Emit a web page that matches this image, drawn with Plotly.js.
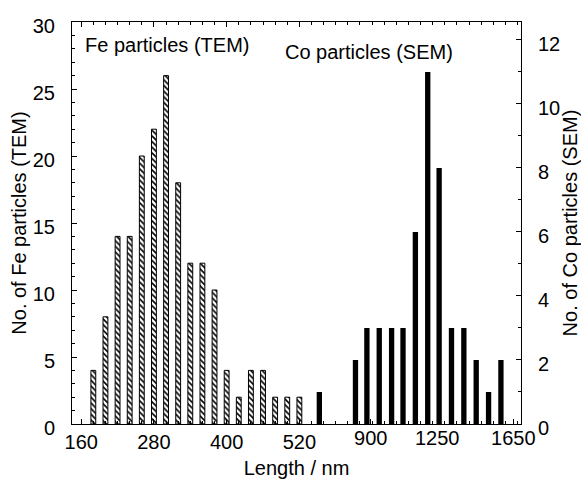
<!DOCTYPE html>
<html>
<head>
<meta charset="utf-8">
<script src="https://cdn.plot.ly/plotly-3.0.1.min.js"></script>
<style>html,body{margin:0;padding:0;background:#fff;}#chart{width:581px;height:482px;}</style>
</head>
<body>
<div id="chart"></div>
<script>
// Fe particles (TEM): bin centre length (nm) and counts
const feLength = [180, 200, 220, 240, 260, 280, 300, 320, 340, 360, 380, 400, 420, 440, 460, 480, 500, 520];
const feCount  = [4, 8, 14, 14, 20, 22, 26, 18, 12, 12, 10, 4, 2, 4, 4, 2, 2, 2];
// Co particles (SEM): bin centre length (nm) and counts
const coLength = [630, 820, 880, 945, 1010, 1070, 1135, 1200, 1260, 1325, 1390, 1455, 1520, 1585];
const coCount  = [1, 2, 3, 3, 3, 3, 6, 11, 8, 3, 3, 2, 1, 2];
// tick labels
const feTicks = [160, 280, 400, 520];
const coTicks = [900, 1250, 1650];
const feCountTicks = [0, 5, 10, 15, 20, 25, 30];
const coCountTicks = [0, 2, 4, 6, 8, 10, 12];

const FONT = '"Liberation Sans", Arial, Helvetica, sans-serif';

const traces = [
  {
    type: 'bar', name: 'Fe particles (TEM)',
    x: feLength, y: feCount, xaxis: 'x', yaxis: 'y',
    width: 8,
    marker: {
      color: 'white',
      line: {color: 'black', width: 1},
      pattern: {shape: '\\', fgcolor: 'black', bgcolor: 'white', size: 4, solidity: 0.4}
    },
    hoverinfo: 'x+y'
  },
  {
    type: 'bar', name: 'Co particles (SEM)',
    x: coLength, y: coCount, xaxis: 'x2', yaxis: 'y2',
    width: 28,
    marker: {color: 'black', line: {color: 'black', width: 0}},
    hoverinfo: 'x+y'
  }
];

const layout = {
  width: 581, height: 482,
  margin: {l: 72, r: 60, t: 22, b: 58},
  paper_bgcolor: 'white', plot_bgcolor: 'white',
  showlegend: false,
  barmode: 'overlay',
  font: {family: FONT, size: 20, color: 'black'},
  xaxis: {
    range: [144.8, 885.7],
    tickmode: 'array', tickvals: feTicks, ticktext: feTicks.map(String),
    ticks: 'inside', ticklen: 5, tickcolor: 'black', tickwidth: 1,
    minor: {tick0: 160, dtick: 20, ticks: 'inside', ticklen: 3, tickcolor: 'black', showgrid: false},
    showline: true, linecolor: 'black', linewidth: 1, mirror: 'ticks',
    showgrid: false, zeroline: false,
    tickfont: {size: 20},
    title: {text: 'Length / nm', font: {size: 20}, standoff: 8}
  },
  xaxis2: {
    overlaying: 'x', side: 'bottom', anchor: 'y',
    range: [-671, 1690.6],
    tickmode: 'array', tickvals: coTicks, ticktext: coTicks.map(String),
    ticks: 'inside', ticklen: 5, tickcolor: 'black',
    showline: false, showgrid: false, zeroline: false,
    tickfont: {size: 20}
  },
  yaxis: {
    range: [0, 30],
    tickmode: 'array', tickvals: feCountTicks,
    ticks: 'inside', ticklen: 5, tickcolor: 'black',
    minor: {dtick: 1, ticks: 'inside', ticklen: 3, tickcolor: 'black', showgrid: false},
    showline: true, linecolor: 'black', linewidth: 1, mirror: false,
    showgrid: false, zeroline: false,
    ticklabelstandoff: 12,
    ticklabelshift: 4,
    tickfont: {size: 20},
    title: {text: 'No. of Fe particles (TEM)', font: {size: 20}, standoff: 0}
  },
  yaxis2: {
    overlaying: 'y', side: 'right', anchor: 'x',
    range: [0, 12.56],
    tickmode: 'array', tickvals: coCountTicks,
    ticks: 'inside', ticklen: 5, tickcolor: 'black',
    minor: {dtick: 1, ticks: 'inside', ticklen: 3, tickcolor: 'black', showgrid: false},
    showline: true, linecolor: 'black', linewidth: 1,
    showgrid: false, zeroline: false,
    ticklabelstandoff: 12,
    ticklabelshift: 4,
    tickfont: {size: 20},
    title: {text: 'No. of Co particles (SEM)', font: {size: 20}, standoff: 4}
  },
  annotations: [
    {text: 'Fe particles (TEM)', xref: 'paper', yref: 'paper', x: 0.0245, y: 0.943,
     xanchor: 'left', yanchor: 'middle', showarrow: false, font: {size: 20}},
    {text: 'Co particles (SEM)', xref: 'paper', yref: 'paper', x: 0.469, y: 0.925,
     xanchor: 'left', yanchor: 'middle', showarrow: false, font: {size: 20}}
  ]
};

Plotly.newPlot('chart', traces, layout, {displayModeBar: false, staticPlot: true});
</script>
</body>
</html>
